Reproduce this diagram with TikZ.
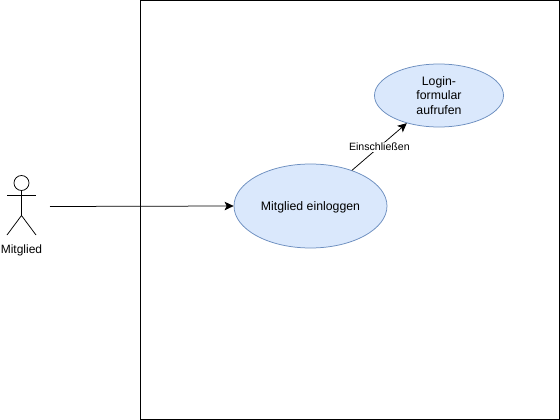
\documentclass[tikz,border=0pt]{standalone}
\usepackage{fontspec}
\setmainfont{Liberation Sans}
\usetikzlibrary{shapes.geometric,arrows.meta}
\definecolor{fallfill}{HTML}{DAE8FC}
\definecolor{falldraw}{HTML}{6C8EBF}
\tikzset{
  usecase/.style={ellipse,draw=falldraw,fill=fallfill,inner sep=0pt,align=center,text depth=0pt,font=\fontsize{12.3}{14.5}\selectfont},
  pfeil/.style={-{Stealth[length=9pt,width=8.5pt,inset=2pt]},line width=0.75pt}
}
\begin{document}
\begin{tikzpicture}[x=1pt,y=-1pt,line width=0.75pt]
    \useasboundingbox (0, 0) rectangle (560, 420);

    % Systemgrenze
    \node[draw,minimum width=419pt,minimum height=419pt,inner sep=0pt] (system) at (350, 210) {};

    % Akteur
    \node[circle,draw,minimum size=15pt,inner sep=0pt] (kopf) at (21.5, 183) {};
    \coordinate (huefte) at (21.5, 215.5);
    \draw (kopf.south) -- (huefte);
    \draw (7, 195) -- (36, 195);
    \draw (7, 235) -- (huefte) -- (36, 235);
    \node[font=\fontsize{12}{14}\selectfont] (mitglied) at (21.5, 250.5) {Mitglied};
    \coordinate (start) at (50, 206.5);

    % Anwendungsfaelle
    \node[usecase,minimum width=153pt,minimum height=84pt] (einloggen) at (310.5, 206) {Mitglied einloggen};
    \node[usecase,minimum width=129pt,minimum height=63pt] (formular) at (439, 95.5) {Login-\\formular\\aufrufen};

    % Verbindungen
    \draw[pfeil] (start) -- (einloggen.west);
    \draw[pfeil] (einloggen) -- node[fill=white,inner sep=1pt,font=\fontsize{10.6}{13}\selectfont] (einschl) {Einschließen} (formular);

  \end{tikzpicture}
\end{document}
